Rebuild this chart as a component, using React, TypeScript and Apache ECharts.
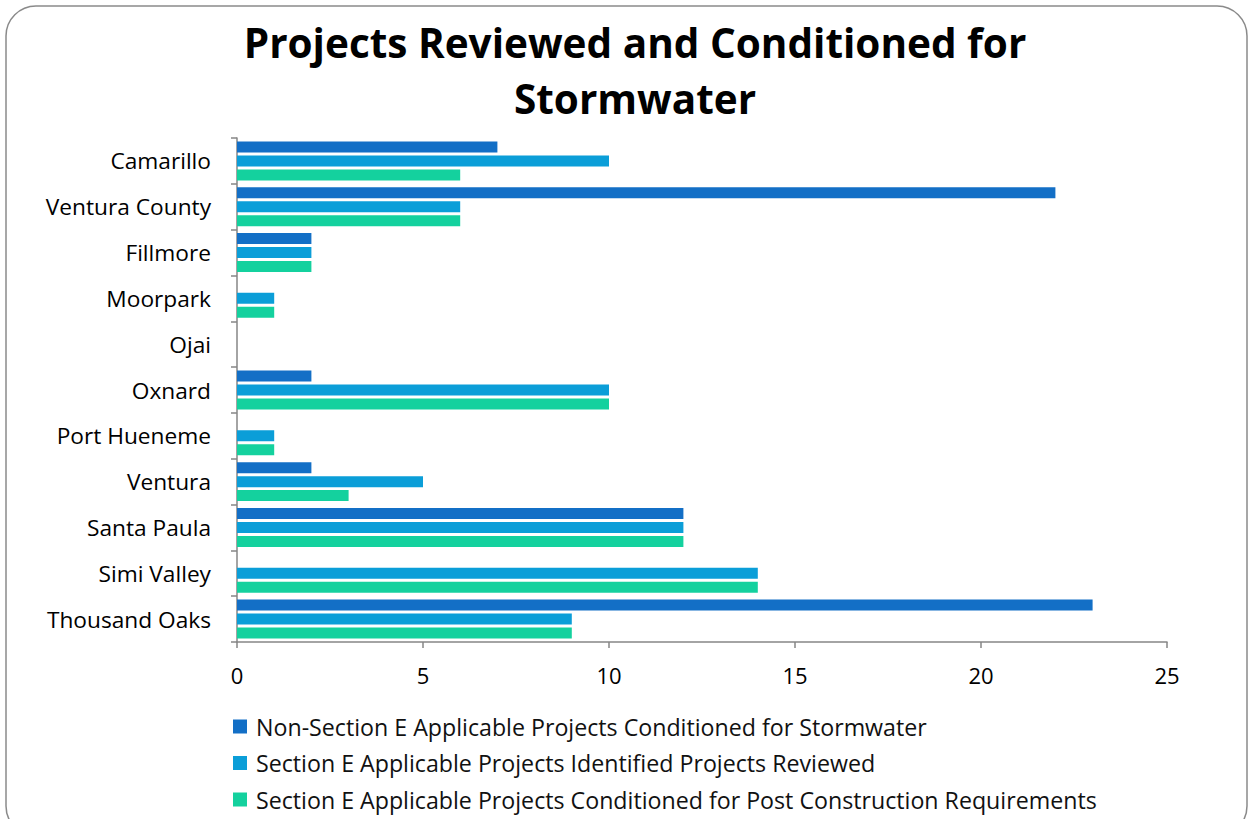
import React, { useEffect, useRef } from "react";
import * as echarts from "echarts";

const categories = [
  "Camarillo",
  "Ventura County",
  "Fillmore",
  "Moorpark",
  "Ojai",
  "Oxnard",
  "Port Hueneme",
  "Ventura",
  "Santa Paula",
  "Simi Valley",
  "Thousand Oaks",
];
const nonSectionE = [7, 22, 2, 0, 0, 2, 0, 2, 12, 0, 23];
const sectionEReviewed = [10, 6, 2, 1, 0, 10, 1, 5, 12, 14, 9];
const sectionEConditioned = [6, 6, 2, 1, 0, 10, 1, 3, 12, 14, 9];
const seriesNames = [
  "Non-Section E Applicable Projects Conditioned for Stormwater",
  "Section E Applicable Projects Identified Projects Reviewed",
  "Section E Applicable Projects Conditioned for Post Construction Requirements",
];
const colors = ["#136FC6", "#0B9ED8", "#14D19E"];
const FONT = "Open Sans";

export default function App() {
  const ref = useRef<HTMLDivElement>(null);
  useEffect(() => {
    if (!ref.current) return;
    const chart = echarts.init(ref.current, undefined, { renderer: "svg" });
    const dataSets = [nonSectionE, sectionEReviewed, sectionEConditioned];
    chart.setOption({
      animation: false,
      backgroundColor: "#ffffff",
      textStyle: { fontFamily: FONT },
      title: {
        text: "Projects Reviewed and Conditioned for\nStormwater",
        left: 630,
        top: 9,
        textAlign: "center",
        textStyle: {
          fontFamily: FONT,
          fontSize: 40.5,
          fontWeight: "bold",
          color: "#000",
          lineHeight: 56,
        },
      },
      graphic: [
        {
          type: "rect",
          shape: { x: 6, y: 6, width: 1241, height: 830, r: 30 },
          style: { fill: "none", stroke: "#8a8a8a", lineWidth: 1.5 },
          silent: true,
          z: -1,
        },
      ],
      legend: {
        orient: "vertical",
        left: 228,
        top: 710,
        itemWidth: 14,
        itemHeight: 14,
        itemGap: 13.5,
        icon: "rect",
        textStyle: { fontFamily: FONT, fontSize: 23.2, color: "#111", padding: [0, 0, 0, 4] },
        data: seriesNames,
      },
      grid: { left: 237, right: 83, top: 138, bottom: 177, containLabel: false },
      xAxis: {
        type: "value",
        min: 0,
        max: 25,
        interval: 5,
        splitLine: { show: false },
        axisLine: { show: true, lineStyle: { color: "#868686", width: 1.5 } },
        axisTick: { show: true, length: 6, lineStyle: { color: "#868686", width: 1.5 } },
        axisLabel: { margin: 22, fontSize: 22, color: "#000", fontFamily: FONT },
      },
      yAxis: {
        type: "category",
        inverse: true,
        data: categories,
        axisLine: { show: true, lineStyle: { color: "#868686", width: 1.5 } },
        axisTick: { show: true, length: 6, lineStyle: { color: "#868686", width: 1.5 } },
        axisLabel: { margin: 26, fontSize: 22.7, color: "#000", fontFamily: FONT },
      },
      series: dataSets.map((d, i) => ({
        name: seriesNames[i],
        type: "bar",
        data: d,
        barWidth: 11,
        barGap: "27%",
        itemStyle: { color: colors[i] },
      })),
    });
    return () => chart.dispose();
  }, []);
  return (
    <div
      ref={ref}
      style={{ position: "fixed", left: 0, top: 0, width: 1250, height: 819 }}
    />
  );
}
